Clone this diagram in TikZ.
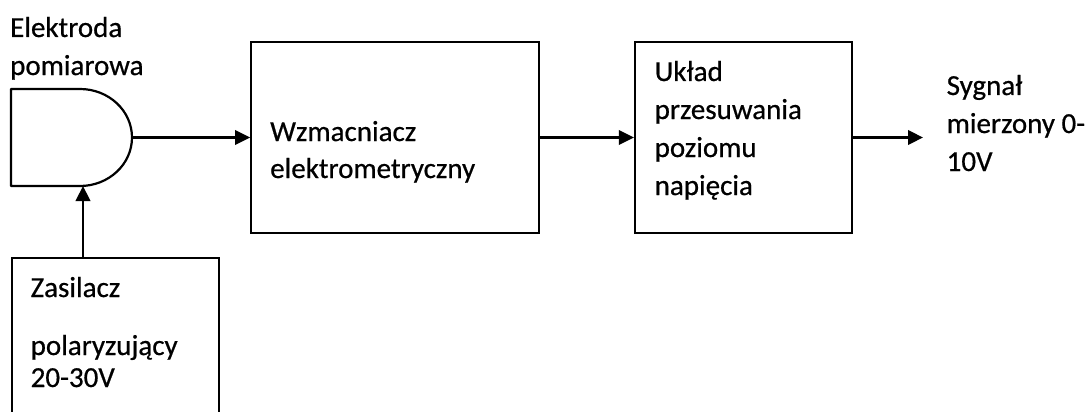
\documentclass[tikz,border=0pt]{standalone}
\usepackage{fontspec}
\setmainfont[FakeBold=0.6]{Carlito}
\usetikzlibrary{arrows.meta}

\tikzset{
  blk/.style={draw, line width=2.2pt, rectangle, inner sep=0pt},
  lbl/.style={anchor=base west, inner sep=0pt, font=\fontsize{29pt}{35pt}\selectfont},
  sig/.style={line width=2.2pt, -{Triangle[length=15pt,width=14.5pt]}},
  outline/.style={draw, line width=2.2pt, line join=round}
}

\begin{document}
\begin{tikzpicture}[x=1pt, y=-1pt]
  \useasboundingbox (0,0) rectangle (1090,412);
  \clip (0,0) rectangle (1090,412);

  % measuring electrode (half-rounded body)
  \draw[outline] (80,186) -- (11,186) -- (11,89) -- (80,89)
    .. controls (108.7,89) and (132,110.7) .. (132,137.5)
    .. controls (132,164.3) and (108.7,186) .. (80,186) -- cycle;
  \coordinate (eout) at (132,137.5);
  \coordinate (ein) at (83,186);

  % processing blocks
  \node[blk, minimum width=288pt, minimum height=191pt] (amp) at (395.2,137.8) {};
  \node[blk, minimum width=216.7pt, minimum height=191.3pt] (shift) at (743.3,137.4) {};
  \node[blk, minimum width=207pt, minimum height=210pt] (supply) at (115.5,363) {};

  % output signal end point
  \coordinate (out) at (923,137.5);

  % connectors
  \draw[sig] (eout) -- (eout -| amp.west);
  \draw[sig] (amp.east |- 0,137.5) -- (shift.west |- 0,137.5);
  \draw[sig] (shift.east |- out) -- (out);
  \draw[sig] (ein |- supply.north) -- (ein);

  % labels
  \node[lbl] (el1) at (10,37) {Elektroda};
  \node[lbl] (el2) at (10,75) {pomiarowa};

  \node[lbl] (am1) at (270,141) {Wzmacniacz};
  \node[lbl] (am2) at (270,178) {elektrometryczny};

  \node[lbl] (sh1) at (654.5,81) {Układ};
  \node[lbl] (sh2) at (654.5,119) {przesuwania};
  \node[lbl] (sh3) at (654.5,157) {poziomu};
  \node[lbl] (sh4) at (654.5,195) {napięcia};

  \node[lbl] (sg1) at (946.5,95) {Sygnał};
  \node[lbl] (sg2) at (946.5,133) {mierzony 0-};
  \node[lbl] (sg3) at (946.5,171) {10V};

  \node[lbl] (su1) at (30.5,297) {Zasilacz};
  \node[lbl] (su2) at (30.5,355) {polaryzujący};
  \node[lbl] (su3) at (30.5,387) {20-30V};
\end{tikzpicture}
\end{document}
